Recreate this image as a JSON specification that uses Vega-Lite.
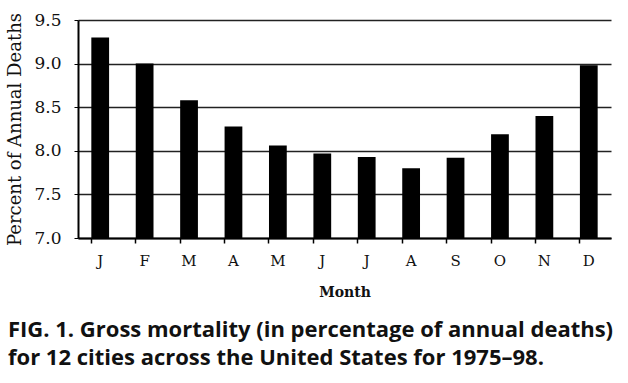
{
  "$schema": "https://vega.github.io/schema/vega-lite/v6.json",
  "width": 533,
  "height": 218,
  "autosize": "none",
  "padding": {"left": 78, "top": 20, "right": 17, "bottom": 145},
  "background": "white",
  "data": {"values": [
    {"idx": 1, "month": "J", "pct": 9.30},
    {"idx": 2, "month": "F", "pct": 9.00},
    {"idx": 3, "month": "M", "pct": 8.58},
    {"idx": 4, "month": "A", "pct": 8.28},
    {"idx": 5, "month": "M", "pct": 8.06},
    {"idx": 6, "month": "J", "pct": 7.97},
    {"idx": 7, "month": "J", "pct": 7.93},
    {"idx": 8, "month": "A", "pct": 7.80},
    {"idx": 9, "month": "S", "pct": 7.92},
    {"idx": 10, "month": "O", "pct": 8.19},
    {"idx": 11, "month": "N", "pct": 8.40},
    {"idx": 12, "month": "D", "pct": 8.98}
  ]},
  "title": {
    "text": ["FIG. 1. Gross mortality (in percentage of annual deaths)", "for 12 cities across the United States for 1975–98."],
    "orient": "bottom",
    "anchor": "start",
    "frame": "group",
    "offset": 21,
    "dx": -70,
    "font": "Open Sans",
    "fontSize": 22,
    "fontWeight": "bold",
    "color": "#111",
    "lineHeight": 28
  },
  "mark": {"type": "bar", "color": "black", "clip": true},
  "encoding": {
    "x": {
      "field": "idx", "type": "ordinal",
      "scale": {"paddingInner": 0.6, "paddingOuter": 0.3},
      "axis": {
        "title": "Month",
        "labelExpr": "['J','F','M','A','M','J','J','A','S','O','N','D'][datum.value-1]",
        "labelAngle": 0,
        "labelFont": "DejaVu Serif",
        "labelFontSize": 15,
        "labelColor": "#111",
        "labelPadding": 10,
        "titleFont": "DejaVu Serif",
        "titleFontSize": 14,
        "titleFontWeight": "bold",
        "titleColor": "#111",
        "titlePadding": 17,
        "domainColor": "black",
        "domainWidth": 2,
        "tickColor": "black",
        "tickWidth": 1.5,
        "tickSize": 5,
        "bandPosition": 0,
        "grid": false
      }
    },
    "y": {
      "field": "pct", "type": "quantitative",
      "scale": {"domain": [7.0, 9.5], "zero": false, "nice": false},
      "axis": {
        "title": "Percent of Annual Deaths",
        "values": [7.0, 7.5, 8.0, 8.5, 9.0, 9.5],
        "format": ".1f",
        "labelFont": "DejaVu Serif",
        "labelFontSize": 17,
        "labelColor": "#111",
        "labelPadding": 13,
        "titleFont": "DejaVu Serif",
        "titleFontSize": 18,
        "titleFontWeight": "normal",
        "titleColor": "#111",
        "titlePadding": 9,
        "domainColor": "black",
        "domainWidth": 2,
        "tickColor": "black",
        "tickSize": 4,
        "grid": true,
        "gridColor": "#222",
        "gridWidth": 1.5
      }
    }
  },
  "config": {"view": {"stroke": null}}
}
